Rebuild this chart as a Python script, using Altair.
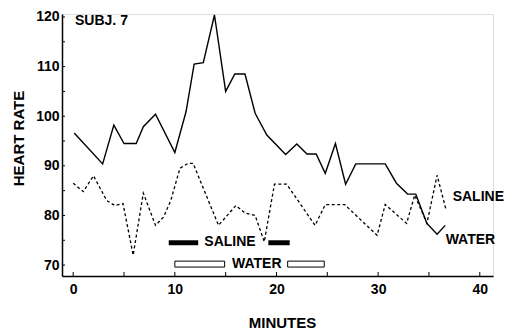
import altair as alt
import pandas as pd

# Saline (solid line)
saline_min = [0.1, 2.9, 4.0, 5.0, 6.2, 6.9, 8.1, 10.0, 11.1, 11.9, 12.8, 13.9, 15.0, 15.9,
              16.9, 17.9, 19.05, 20.9, 22.0, 23.0, 23.9, 24.8, 25.8, 26.8, 27.8, 30.7,
              31.8, 32.9, 33.7, 34.8, 35.8, 36.6]
saline_hr = [96.6, 90.4, 98.2, 94.5, 94.5, 97.9, 100.4, 92.7, 100.9, 110.5, 110.8, 120.4,
             105, 108.5, 108.5, 100.6, 96.2, 92.3, 94.4, 92.4, 92.4, 88.5, 94.5, 86.3,
             90.4, 90.4, 86.5, 84.3, 84.3, 78.4, 76.2, 78]

# Water (dashed line)
water_min = [0.0, 1.0, 2.0, 3.3, 4.1, 4.9, 5.9, 6.9, 8.1, 8.9, 9.6, 10.5, 11.3, 11.8, 14.3,
             16.0, 16.9, 17.9, 18.8, 19.8, 21.0, 23.8, 24.8, 26.7, 29.9, 30.7, 32.8, 33.6,
             34.8, 35.8, 36.7]
water_hr = [86.5, 84.8, 88, 83, 82, 82.4, 72, 84.5, 78, 79.7, 83, 89.5, 90.5, 90.5, 78,
            82, 80.5, 80, 74.7, 86.3, 86.3, 78, 82.2, 82.2, 76, 82.2, 78.4, 84.1, 78.4,
            88.1, 81]

# Infusion bars
saline_bar_start = [9.4, 19.2]
saline_bar_end = [12.3, 21.3]
water_bar_start = [10.0, 21.1]
water_bar_end = [14.9, 24.7]

# Annotations
ann_text = ["SUBJ. 7", "SALINE", "WATER"]
ann_min = [0.18, 37.33, 36.64]
ann_hr = [119.2, 83.7, 75.05]
bar_label_text = ["SALINE", "WATER"]
bar_label_min = [15.43, 18.06]
bar_label_hr = [74.65, 70.2]

x_ticks = [0, 5, 10, 15, 20, 25, 30, 35, 40]
y_ticks = [70, 75, 80, 85, 90, 95, 100, 105, 110, 115, 120]

FONT = "Liberation Sans"

xs = alt.Scale(domain=[-1.1, 41.3], nice=False, zero=False)
ys = alt.Scale(domain=[67.8, 120.6], nice=False, zero=False)

x_axis = alt.Axis(
    title="MINUTES", values=[0, 10, 20, 30, 40], ticks=False, grid=False,
    domainColor="black", domainWidth=1.5, labelFont=FONT, labelFontSize=14,
    labelFontWeight="bold", labelColor="black", labelPadding=6,
    titleFont=FONT, titleFontSize=15, titleFontWeight="bold", titleColor="black",
    titleX=220, titleY=46, titleBaseline="middle", titleAlign="center")
y_axis = alt.Axis(
    title="HEART RATE", values=[70, 80, 90, 100, 110, 120], ticks=False, grid=False,
    domainColor="black", domainWidth=1.5, labelFont=FONT, labelFontSize=14,
    labelFontWeight="bold", labelColor="black", labelPadding=3,
    titleFont=FONT, titleFontSize=15, titleFontWeight="bold", titleColor="black",
    titleX=-44, titleY=124, titleAngle=-90, titleBaseline="middle", titleAlign="center")

X = alt.X("m:Q", scale=xs, axis=x_axis)
Y = alt.Y("hr:Q", scale=ys, axis=y_axis)

sal = pd.DataFrame({"m": saline_min, "hr": saline_hr})
wat = pd.DataFrame({"m": water_min, "hr": water_hr})

line_s = alt.Chart(sal).mark_line(color="black", strokeWidth=1.4).encode(
    x=X, y=Y, order="m:Q")

line_w = alt.Chart(wat).mark_line(color="black", strokeWidth=1.3, strokeDash=[3, 2.5]).encode(
    x=X, y=Y, order="m:Q")

sbar = pd.DataFrame({"m": saline_bar_start, "m2": saline_bar_end,
                     "hr": [74.0, 74.0], "hr2": [75.0, 75.0]})
wbar = pd.DataFrame({"m": water_bar_start, "m2": water_bar_end,
                     "hr": [69.6, 69.6], "hr2": [70.8, 70.8]})

sbars = alt.Chart(sbar).mark_rect(color="black").encode(x=X, x2="m2:Q", y=Y, y2="hr2:Q")
wbars = alt.Chart(wbar).mark_rect(fill="white", stroke="black", strokeWidth=1).encode(
    x=X, x2="m2:Q", y=Y, y2="hr2:Q")

ann = pd.DataFrame({"t": ann_text, "m": ann_min, "hr": ann_hr})
ann_t = alt.Chart(ann).mark_text(align="left", baseline="middle", font=FONT, fontSize=14,
                                 fontWeight="bold", color="black").encode(x=X, y=Y, text="t:N")

bl = pd.DataFrame({"t": bar_label_text, "m": bar_label_min, "hr": bar_label_hr})
bl_t = alt.Chart(bl).mark_text(align="center", baseline="middle", font=FONT, fontSize=14,
                               fontWeight="bold", color="black").encode(x=X, y=Y, text="t:N")

xt = alt.Chart(pd.DataFrame({"m": x_ticks})).mark_rule(color="black", strokeWidth=1).encode(
    x=X, y=alt.value(262), y2=alt.value(258))
yt = alt.Chart(pd.DataFrame({"hr": y_ticks})).mark_rule(color="black", strokeWidth=1).encode(
    y=Y, x=alt.value(0), x2=alt.value(3))

chart = alt.layer(line_s, line_w, sbars, wbars, ann_t, bl_t, xt, yt).properties(
    width=431, height=262,
    autosize=alt.AutoSizeParams(type="none"),
    padding={"left": 54, "top": 6, "right": 14, "bottom": 58},
).configure_view(stroke=None).configure(background="white")

chart.save("out.html", embed_options={"renderer": "svg", "actions": False})
